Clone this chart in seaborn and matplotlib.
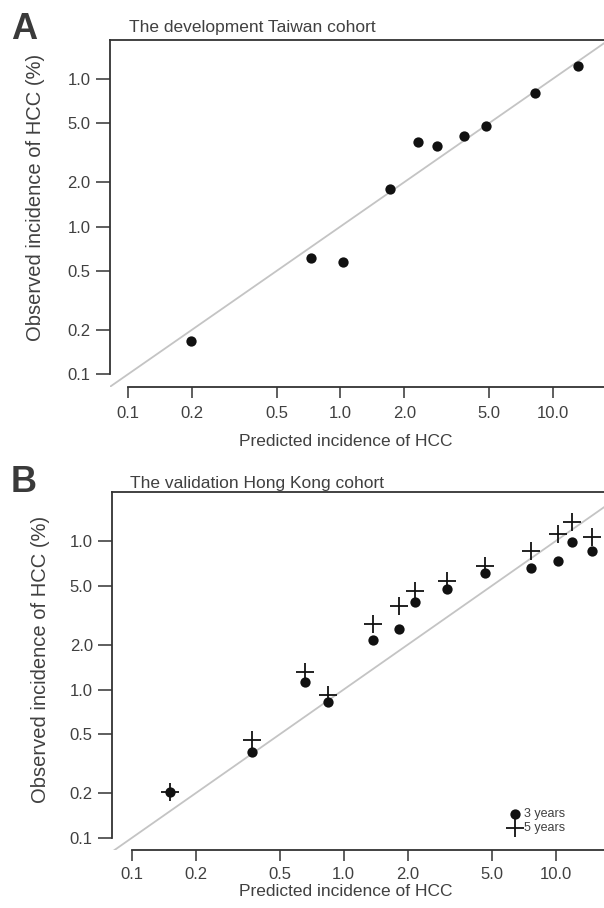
import numpy as np
import pandas as pd
import seaborn as sns
import matplotlib.pyplot as plt

# Panel A: development Taiwan cohort (predicted vs observed, %)
taiwan_pred = [0.197, 0.726, 1.03, 1.71, 2.32, 2.85, 3.82, 4.85, 8.24, 13.2]
taiwan_obs = [0.167, 0.611, 0.574, 1.79, 3.74, 3.51, 4.11, 4.80, 8.04, 12.3]

# Panel B: validation Hong Kong cohort
hk_pred = [0.152, 0.368, 0.657, 0.84, 1.38, 1.83, 2.17, 3.07, 4.64, 7.64, 10.3, 11.9, 14.8]
hk_obs_3y = [0.205, 0.381, 1.13, 0.826, 2.17, 2.54, 3.90, 4.74, 6.08, 6.57, 7.36, 9.88, 8.55]
hk_obs_5y = [0.205, 0.456, 1.32, 0.916, 2.75, 3.65, 4.63, 5.37, 6.78, 8.55, 11.1, 13.5, 10.7]

tick_vals = [0.1, 0.2, 0.5, 1.0, 2.0, 5.0, 10.0]
x_labels = ["0.1", "0.2", "0.5", "1.0", "2.0", "5.0", "10.0"]
y_labels = ["0.1", "0.2", "0.5", "1.0", "2.0", "5.0", "1.0"]

sns.set_style("ticks")
plt.rcParams["font.family"] = ["Liberation Sans", "DejaVu Sans"]
text_col = "#404040"
axis_col = "#333333"

W, H = 604, 908
fig = plt.figure(figsize=(W / 100, H / 100), dpi=100)


def make_axes(left, top, bottom):
    return fig.add_axes([left / W, 1 - bottom / H, (W - left) / W, (bottom - top) / H])


def style_axes(ax, xlim, ylim, ylab_xy, xlab_xy, xpad=6):
    ax.set_xscale("log")
    ax.set_yscale("log")
    ax.set_xlim(*xlim)
    ax.set_ylim(*ylim)
    ax.set_xticks(tick_vals)
    ax.set_xticklabels(x_labels)
    ax.set_yticks(tick_vals)
    ax.set_yticklabels(y_labels)
    ax.minorticks_off()
    ax.spines["right"].set_visible(False)
    for s in ["left", "top", "bottom"]:
        ax.spines[s].set_color(axis_col)
        ax.spines[s].set_linewidth(1.3)
    ax.spines["left"].set_bounds(0.1, ylim[1])
    ax.spines["bottom"].set_bounds(0.1, xlim[1])
    ax.tick_params(axis="x", length=8, width=1.1, color=axis_col, labelsize=12,
                   labelcolor=text_col, pad=xpad)
    ax.tick_params(axis="y", length=10, width=1.1, color=axis_col, labelsize=12,
                   labelcolor=text_col, pad=4)
    ax.set_xlabel("Predicted incidence of HCC", fontsize=12.5, color=text_col)
    ax.set_ylabel("Observed incidence of HCC (%)", fontsize=14.5, color=text_col)
    ax.yaxis.set_label_coords(*ylab_xy)
    ax.xaxis.set_label_coords(*xlab_xy)
    # identity line
    sns.lineplot(x=[0.01, 100], y=[0.01, 100], ax=ax, color="#c4c4c4", linewidth=1.3,
                 zorder=1)


# ---- Panel A ----
axA = make_axes(110, 40, 387)
style_axes(axA, (0.0820, 17.46), (0.0817, 18.37), (-0.1316, 0.545), (0.478, -0.135))
dfA = pd.DataFrame({"pred": taiwan_pred, "obs": taiwan_obs})
sns.scatterplot(data=dfA, x="pred", y="obs", ax=axA, color="#111111", s=55,
                marker="o", linewidth=0, zorder=3)

# ---- Panel B ----
axB = make_axes(112.3, 492.3, 850)
style_axes(axB, (0.0810, 16.9), (0.0830, 21.3), (-0.1267, 0.534), (0.475, -0.094),
           xpad=4.5)
dfB = pd.DataFrame({"pred": hk_pred, "y3": hk_obs_3y, "y5": hk_obs_5y})
sns.scatterplot(data=dfB, x="pred", y="y3", ax=axB, color="#111111", s=55,
                marker="o", linewidth=0, zorder=3, label="3 years")
sns.scatterplot(data=dfB, x="pred", y="y5", ax=axB, color="#111111", s=150,
                marker="+", linewidth=1.3, zorder=4, label="5 years")
leg = axB.legend(loc="lower right", bbox_to_anchor=(0.921, 0.045), frameon=False,
                 fontsize=9, handletextpad=0.2, handlelength=1.0, labelspacing=0.15,
                 markerscale=1.0, borderpad=0, borderaxespad=0)
for t in leg.get_texts():
    t.set_color(text_col)

# titles and panel letters
fig.text(129 / W, 1 - 32 / H, "The development Taiwan cohort", fontsize=12.5,
         color=text_col, va="baseline", ha="left")
fig.text(130 / W, 1 - 488 / H, "The validation Hong Kong cohort", fontsize=12.5,
         color=text_col, va="baseline", ha="left")
fig.text(11 / W, 1 - 39 / H, "A", fontsize=26, fontweight="bold", color="#3a3a3a",
         va="baseline", ha="left")
fig.text(11 / W, 1 - 492 / H, "B", fontsize=26, fontweight="bold", color="#3a3a3a",
         va="baseline", ha="left")

fig.savefig("out.png", dpi=100)
